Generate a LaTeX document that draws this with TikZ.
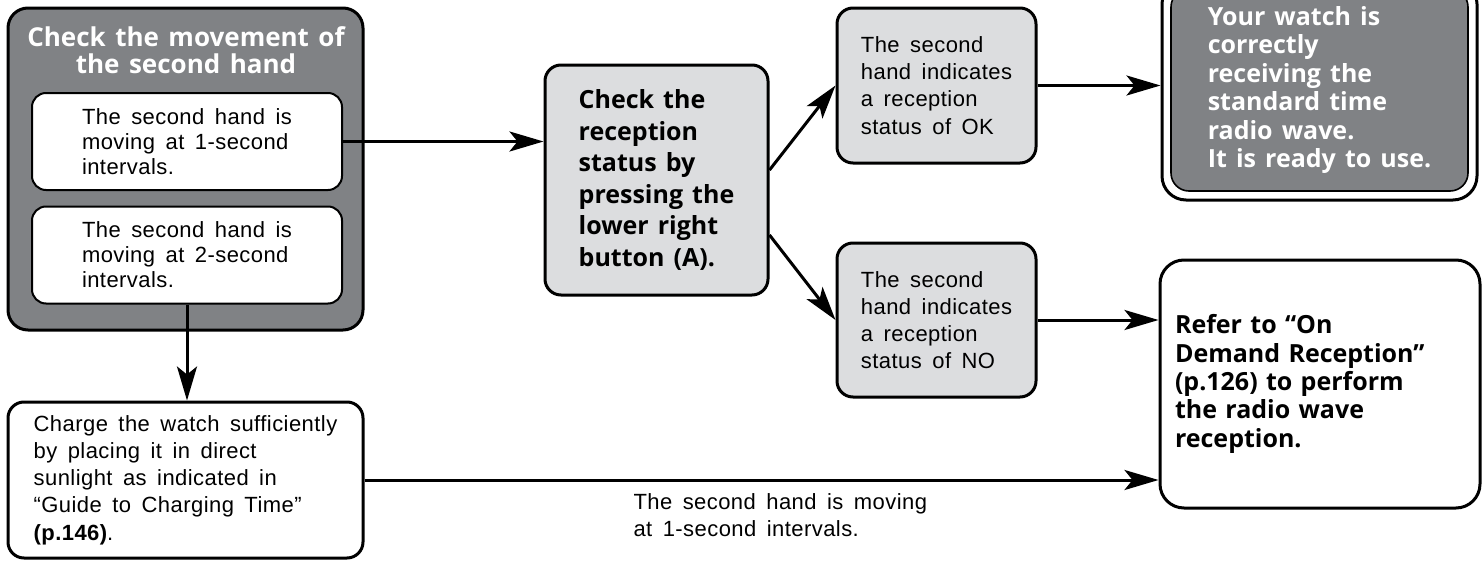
\documentclass[tikz,border=0pt]{standalone}
\usepackage{fontspec}
\setmainfont{Liberation Sans}[WordSpace=1.6,LetterSpace=2]
\newfontfamily\headfont{Open Sans}[WordSpace=1.4]
\usetikzlibrary{arrows.meta}
\definecolor{darkfill}{RGB}{128,130,133}
\definecolor{lightfill}{RGB}{220,221,223}

\begin{document}
\begin{tikzpicture}[->, >={Stealth[length=17pt,width=10pt,inset=4pt]}, x=0.5pt, y=-0.5pt, line width=1.5pt]

    \tikzstyle{box}=[draw=black, rounded corners=8pt, align=left, inner sep=0pt, font=\fontsize{11}{13.6}\selectfont]
    \tikzstyle{inner}=[box, fill=white, line width=1pt, rounded corners=7pt, font=\fontsize{11}{12.5}\selectfont]
    \tikzstyle{graybox}=[box, fill=lightfill]
    \tikzstyle{whitebox}=[box, fill=white]
    \tikzstyle{bold}=[font=\headfont\bfseries\fontsize{12.5}{14.2}\selectfont]

    \useasboundingbox (0,0) rectangle (1484,562);

    \node[box, fill=darkfill, rounded corners=10pt, minimum width=177.5pt, minimum height=161pt] (move) at (185.5,169) {};
    \node[bold, text=white, align=center, inner sep=0pt, font=\headfont\bfseries\fontsize{13}{13.4}\selectfont] (title) at (186,50) {Check the movement of\\the second hand};
    \node[inner, minimum width=155pt, minimum height=48.5pt] (one) at (187,141.5) {The second hand is\\moving at 1-second\\intervals.};
    \node[inner, minimum width=155pt, minimum height=48.5pt] (two) at (187,255) {The second hand is\\moving at 2-second\\intervals.};
    \node[whitebox, minimum width=177.5pt, minimum height=78pt] (charge) at (185.5,480) {Charge the watch sufficiently\\by placing it in direct\\sunlight as indicated in\\“Guide to Charging Time”\\\textbf{(p.146)}.};

    \node[graybox, bold, font=\headfont\bfseries\fontsize{12.5}{15.8}\selectfont, minimum width=111.5pt, minimum height=115pt] (recep) at (656.5,180) {Check the\\reception\\status by\\pressing the\\lower right\\button (A).};

    \node[graybox, minimum width=99.5pt, minimum height=77.5pt] (ok) at (936.5,85.5) {The second\\hand indicates\\a reception\\status of OK};
    \node[graybox, minimum width=99.5pt, minimum height=77pt] (no) at (936.5,320) {The second\\hand indicates\\a reception\\status of NO};

    \node[whitebox, rounded corners=12pt, minimum width=157.5pt, minimum height=110pt] (resout) at (1319.5,90) {};
    \node[box, bold, fill=darkfill, text=white, line width=0.8pt, rounded corners=9pt, minimum width=148.5pt, minimum height=101pt] (result) at (1319.5,90) {Your watch is\\correctly\\receiving the\\standard time\\radio wave.\\It is ready to use.};
    \node[whitebox, bold, text width=145pt, rounded corners=12pt, minimum width=160pt, minimum height=124pt] (refer) at (1320,384) {Refer to “On\\Demand Reception”\\(p.126) to perform\\the radio wave\\reception.};

    \node[align=left, inner sep=0pt, anchor=north west, font=\fontsize{11}{13.5}\selectfont] (note) at (632,492) {The second hand is moving\\at 1-second intervals.};

    \path (one) edge (one -| recep.west)
          (two) edge (two |- charge.north)
          ([yshift=5pt]recep.east) edge (ok.west)
          ([yshift=-27.5pt]recep.east) edge (no.west)
          (ok) edge (ok -| resout.west)
          (no) edge (no -| refer.west)
          (charge) edge (charge -| refer.west);
\end{tikzpicture}
\end{document}
